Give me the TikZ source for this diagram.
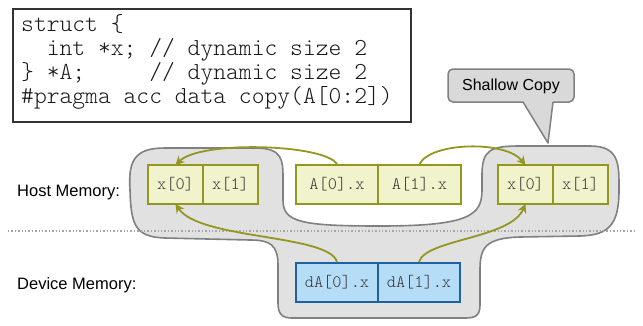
\documentclass[tikz,border=0pt]{standalone}
\usepackage{fontspec}
\setmainfont{Liberation Sans}
\newfontfamily\codefont{Latin Modern Mono Light}
\usetikzlibrary{arrows.meta}
\definecolor{olive}{HTML}{93961F}
\definecolor{cellfill}{HTML}{F1F3CC}
\definecolor{devfill}{HTML}{B6DDF8}
\definecolor{devline}{HTML}{1F609E}
\definecolor{blobfill}{HTML}{E1E1E1}
\definecolor{blobline}{HTML}{808080}
\definecolor{callfill}{HTML}{D9D9D9}
\tikzset{
  hostcell/.style={draw=olive, fill=cellfill, line width=1.8pt, minimum height=39pt,
    inner sep=0pt, text=black!80, font=\codefont\fontsize{17.5}{18}\selectfont},
  devcell/.style={hostcell, draw=devline, fill=devfill},
  ptr/.style={draw=olive, line width=1.8pt, -{Stealth[length=9pt,width=9pt]}},
  codeline/.style={anchor=base west, inner sep=0pt, text=black!90,
    font=\codefont\fontsize{24.4}{24}\selectfont},
  memlabel/.style={anchor=base west, inner sep=0pt, font=\fontsize{16.5}{18}\selectfont},
}
\begin{document}
\begin{tikzpicture}[x=1pt, y=-1pt]
\useasboundingbox (0,0) rectangle (643,325);

% shared host/device region
\filldraw[fill=blobfill, draw=blobline, line width=1.6pt]
  (130,190) .. controls (128,160) and (135,148) .. (165,148)
  -- (255,148) .. controls (283,148) and (283,160) .. (283,180)
  -- (283,200) .. controls (283,222) and (300,226) .. (380,226)
  .. controls (470,226) and (482,215) .. (482,190)
  -- (482,175) .. controls (482,150) and (490,146) .. (520,146)
  -- (590,146) .. controls (620,146) and (619,165) .. (619,190)
  .. controls (619,226) and (608,235) .. (580,236)
  -- (520,237) .. controls (485,238) and (480,248) .. (480,270)
  -- (480,305) .. controls (480,316) and (475,318) .. (465,318)
  -- (292,318) .. controls (282,318) and (278,314) .. (278,303)
  -- (278,265) .. controls (278,245) and (270,240) .. (250,240)
  -- (165,238) .. controls (135,237) and (131,225) .. (130,190) -- cycle;

% host / device separator
\coordinate (sepL) at (8,231);
\coordinate (sepR) at (636,231);
\draw[black!35, line width=1.4pt, dotted] (sepL) -- (sepR);

% host cells
\node[hostcell, minimum width=55pt] (lx0) at (175.5,184.5) {x[0]};
\node[hostcell, minimum width=55pt] (lx1) at (230.5,184.5) {x[1]};
\node[hostcell, minimum width=82pt] (a0) at (337,184.5) {A[0].x};
\node[hostcell, minimum width=83pt] (a1) at (419.5,184.5) {A[1].x};
\node[hostcell, minimum width=55pt] (rx0) at (525.5,184.5) {x[0]};
\node[hostcell, minimum width=55pt] (rx1) at (580.5,184.5) {x[1]};

% device cells
\node[devcell, minimum width=82pt] (d0) at (337,282.5) {dA[0].x};
\node[devcell, minimum width=82pt] (d1) at (419,282.5) {dA[1].x};

% pointers
\draw[ptr] (a0.north) .. controls +(-12,-20) and +(25,-25) .. ([yshift=-1pt]lx0.north);
\draw[ptr] (a1.north) .. controls +(11,-22) and +(-20,-25) .. ([yshift=-1pt]rx0.north);
\draw[ptr] (d0.north) .. controls +(-7,-28) and +(24,36) .. ([yshift=1pt]lx0.south);
\draw[ptr] (d1.north) .. controls +(6,-23) and +(-15,35) .. ([yshift=1pt]rx0.south);

% callout
\filldraw[fill=callfill, draw=blobline, line width=1.5pt, rounded corners=5pt]
  (448,69) rectangle (574,102);
\fill[callfill] (523,100.5) -- (548,143) -- (553,100.5) -- cycle;
\coordinate (tip) at (548,143);
\draw[blobline, line width=1.5pt, line join=round] (523,102) -- (tip) -- (553,102);
\node[inner sep=0pt, font=\fontsize{16}{18}\selectfont] (callout) at (511,86) {Shallow Copy};

% source listing
\draw[black!80, line width=1.2pt] (13,9) rectangle (411,122);
\node[codeline] (c1) at (21,31) {struct \{};
\node[codeline] (c2) at (21,55) {\ \ int *x; // dynamic size 2};
\node[codeline] (c3) at (21,79) {\} *A;\ \ \ \ \ // dynamic size 2};
\node[codeline] (c4) at (21,103) {\#pragma acc data copy(A[0:2])};

% row labels
\node[memlabel] (host) at (17,196) {Host Memory:};
\node[memlabel] (dev) at (17,289) {Device Memory:};
\end{tikzpicture}
\end{document}
